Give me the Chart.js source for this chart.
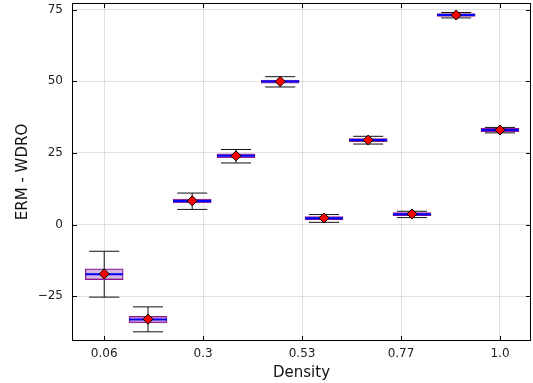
<!DOCTYPE html>
<html>
<head>
<meta charset="utf-8">
<script src="https://cdn.jsdelivr.net/npm/chart.js@4"></script>
<style>
  html, body { margin: 0; padding: 0; background: #fff; }
  #wrap { width: 533px; height: 383px; }
</style>
</head>
<body>
<div id="wrap"><canvas id="boxChart"></canvas></div>
<script>
const density = [0.06, 0.164, 0.269, 0.373, 0.478, 0.582, 0.687, 0.791, 0.896, 1.0];
const whiskLo = [-25.3, -37.4, 5.3, 21.5, 48.0, 0.8, 28.1, 2.45, 72.1, 32.0];
const q1      = [-19.2, -34.3, 7.6, 23.3, 49.3, 1.7, 28.9, 3.1, 72.6, 32.4];
const median  = [-17.3, -33.1, 8.2, 24.0, 49.9, 2.2, 29.5, 3.6, 73.1, 33.0];
const q3      = [-15.4, -32.0, 8.9, 24.7, 50.4, 2.8, 30.0, 4.2, 73.6, 33.6];
const whiskHi = [-9.3, -28.7, 11.0, 26.2, 51.6, 3.5, 30.8, 4.65, 74.0, 33.9];
const mean    = [-17.2, -33.0, 8.3, 24.0, 49.9, 2.3, 29.5, 3.7, 73.1, 33.0];

const xTicks = [0.06, 0.295, 0.53, 0.765, 1.0];
const xTickLabels = ["0.06", "0.3", "0.53", "0.77", "1.0"];
const yTicks = [-25, 0, 25, 50, 75];

const capHalf = 0.0357;
const boxHalf = 0.0447;

// whiskers: vertical line + caps, broken with y:null gaps
const whiskerPts = [];
const medianPts = [];
density.forEach(function (d, i) {
  whiskerPts.push({x: d, y: whiskLo[i]}, {x: d, y: whiskHi[i]}, {x: d, y: null});
  whiskerPts.push({x: d - capHalf, y: whiskHi[i]}, {x: d + capHalf, y: whiskHi[i]}, {x: d, y: null});
  whiskerPts.push({x: d - capHalf, y: whiskLo[i]}, {x: d + capHalf, y: whiskLo[i]}, {x: d, y: null});
  medianPts.push({x: d - boxHalf, y: median[i]}, {x: d + boxHalf, y: median[i]}, {x: d, y: null});
});

const framePlugin = {
  id: 'frame',
  afterDraw(chart) {
    const ctx = chart.ctx, a = chart.chartArea;
    const xs = chart.scales.x, ys = chart.scales.y;
    ctx.save();
    ctx.strokeStyle = '#000';
    ctx.lineWidth = 1;
    ctx.strokeRect(a.left + 0.5, a.top + 0.5, a.right - a.left - 1, a.bottom - a.top - 1);
    ctx.beginPath();
    xs.ticks.forEach(function (t, i) {
      const px = Math.round(xs.getPixelForTick(i)) + 0.5;
      ctx.moveTo(px, a.bottom); ctx.lineTo(px, a.bottom - 5);
      ctx.moveTo(px, a.top); ctx.lineTo(px, a.top + 5);
    });
    ys.ticks.forEach(function (t, i) {
      const py = Math.round(ys.getPixelForTick(i)) + 0.5;
      ctx.moveTo(a.left, py); ctx.lineTo(a.left + 5, py);
      ctx.moveTo(a.right, py); ctx.lineTo(a.right - 5, py);
    });
    ctx.stroke();
    ctx.restore();
  }
};

new Chart(document.getElementById('boxChart'), {
  type: 'bar',
  data: {
    datasets: [
      {
        type: 'line',
        order: 0,
        data: density.map(function (d, i) { return {x: d, y: mean[i]}; }),
        showLine: false,
        pointStyle: 'rectRot',
        pointRadius: 5,
        pointBackgroundColor: '#ff0000',
        pointBorderColor: '#000',
        pointBorderWidth: 1
      },
      {
        type: 'line',
        order: 1,
        data: medianPts,
        borderColor: '#0000ff',
        borderWidth: 2,
        pointRadius: 0,
        spanGaps: false
      },
      {
        type: 'bar',
        order: 2,
        data: density.map(function (d, i) { return {x: d, y: [q1[i], q3[i]]}; }),
        backgroundColor: 'rgba(195, 145, 205, 0.65)',
        borderColor: '#8b1a8b',
        borderWidth: 1,
        borderSkipped: false,
        barThickness: 38,
        grouped: false
      },
      {
        type: 'line',
        order: 3,
        data: whiskerPts,
        borderColor: '#111',
        borderWidth: 1,
        pointRadius: 0,
        spanGaps: false
      }
    ]
  },
  options: {
    responsive: true,
    maintainAspectRatio: false,
    animation: false,
    layout: { autoPadding: false, padding: { left: 0, right: 2, top: 3, bottom: 0 } },
    plugins: { legend: { display: false }, tooltip: { enabled: false } },
    scales: {
      x: {
        type: 'linear',
        min: -0.0165,
        max: 1.0737,
        offset: false,
        afterBuildTicks: function (scale) {
          scale.ticks = xTicks.map(function (v) { return {value: v}; });
        },
        afterFit: function (scale) {
          scale.height = 42;
          scale.paddingLeft = 0;
          scale.paddingRight = 0;
        },
        ticks: {
          padding: 6,
          color: '#222',
          font: { family: 'DejaVu Sans', size: 12 },
          callback: function (v) { return xTickLabels[xTicks.indexOf(v)]; }
        },
        grid: { color: 'rgba(0,0,0,0.12)', drawTicks: false, offset: false },
        border: { display: false },
        title: {
          display: true,
          text: 'Density',
          color: '#111',
          font: { family: 'DejaVu Sans', size: 15 },
          padding: { top: 0, bottom: 1 }
        }
      },
      y: {
        type: 'linear',
        min: -40.6,
        max: 77.3,
        afterBuildTicks: function (scale) {
          scale.ticks = yTicks.map(function (v) { return {value: v}; });
        },
        afterFit: function (scale) {
          scale.width = 72;
          scale.paddingTop = 0;
          scale.paddingBottom = 0;
        },
        ticks: {
          padding: 9,
          color: '#222',
          font: { family: 'DejaVu Sans', size: 12 },
          callback: function (v) { return v < 0 ? '\u2212' + Math.abs(v) : String(v); }
        },
        grid: { color: 'rgba(0,0,0,0.12)', drawTicks: false },
        border: { display: false },
        title: {
          display: true,
          text: 'ERM - WDRO',
          color: '#111',
          font: { family: 'DejaVu Sans', size: 15 },
          padding: { top: 14, bottom: 0 }
        }
      }
    }
  },
  plugins: [framePlugin]
});
</script>
</body>
</html>
